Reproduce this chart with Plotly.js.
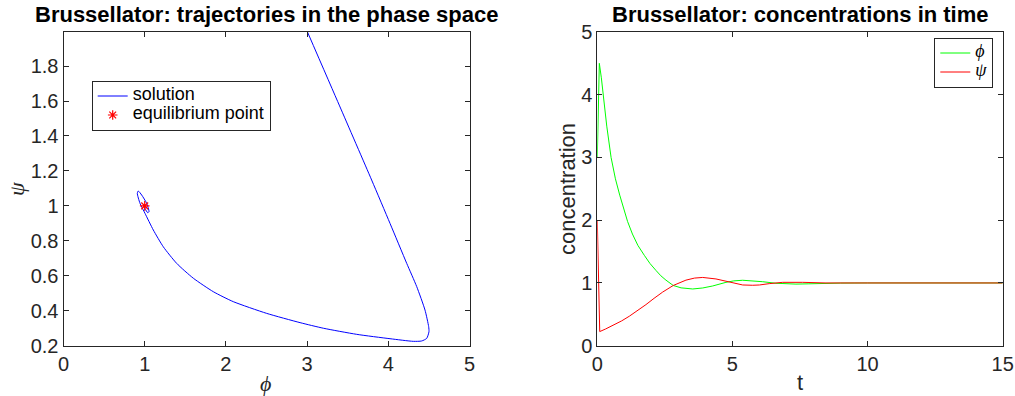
<!DOCTYPE html>
<html>
<head>
<meta charset="utf-8">
<script src="https://cdn.plot.ly/plotly-3.0.1.min.js"></script>
<style>
  html, body { margin: 0; padding: 0; background: #ffffff; }
  #chart { width: 1015px; height: 396px; }
</style>
</head>
<body>
<div id="chart"></div>
<script>
// Brusselator trajectory in the (phi, psi) phase plane
const phasePhi = [3.000, 3.400, 3.795, 4.021, 4.227, 4.350, 4.452, 4.497, 4.501, 4.473, 4.411, 4.308,
                  4.021, 3.611, 3.200, 2.913, 2.502, 2.091, 1.845, 1.599, 1.394, 1.229, 1.106, 1.004,
                  0.942, 0.909, 0.921, 0.963, 1.024, 1.053, 1.037, 1.004, 1.000];
const phasePsi = [2.000, 1.572, 1.148, 0.900, 0.671, 0.538, 0.404, 0.309, 0.280, 0.242, 0.227, 0.225,
                  0.240, 0.265, 0.300, 0.332, 0.385, 0.452, 0.509, 0.586, 0.671, 0.766, 0.862, 0.957,
                  1.015, 1.072, 1.085, 1.062, 1.015, 0.967, 0.961, 0.986, 1.000];

// Equilibrium point
const eqPhi = [1];
const eqPsi = [1];

// Concentrations over time
const tPhi = [0, 0.075, 0.15, 0.22, 0.35, 0.51, 0.67, 0.83, 1.0, 1.12, 1.3, 1.5, 1.74, 1.95, 2.17, 2.35,
              2.54, 2.81, 3.1, 3.53, 3.9, 4.27, 4.76, 5.05, 5.38, 5.75, 6.12, 6.61, 7.0, 7.35, 7.8, 8.3,
              9.0, 10, 11, 12, 13, 14, 15];
const phiT = [3.0, 4.5, 4.27, 4.0, 3.5, 3.0, 2.66, 2.4, 2.14, 1.98, 1.78, 1.6, 1.44, 1.31, 1.2, 1.115,
              1.045, 0.96, 0.922, 0.904, 0.92, 0.952, 1.01, 1.033, 1.043, 1.036, 1.02, 0.995, 0.985, 0.982,
              0.986, 0.993, 0.998, 1.0, 1.0, 1.0, 1.0, 1.0, 1.0];
const tPsi = [0, 0.05, 0.09, 0.3, 0.57, 0.9, 1.185, 1.5, 1.8, 2.1, 2.42, 2.81, 3.28, 3.6, 3.9, 4.39, 4.82,
              5.1, 5.38, 5.75, 6.0, 6.36, 6.86, 7.6, 8.46, 9.5, 10, 11, 12, 13, 14, 15];
const psiT = [2.0, 0.6, 0.225, 0.265, 0.32, 0.395, 0.47, 0.56, 0.655, 0.755, 0.855, 0.96, 1.045, 1.078, 1.088,
              1.064, 1.02, 0.99, 0.968, 0.963, 0.968, 0.989, 1.01, 1.01, 1.0, 1.0, 1.0, 1.0, 1.0, 1.0, 1.0, 1.0];

// Tick positions and labels
const phaseXTicks = [0, 1, 2, 3, 4, 5];
const phaseYTicks = [0.2, 0.4, 0.6, 0.8, 1, 1.2, 1.4, 1.6, 1.8];
const phaseYLabels = ['0.2', '0.4', '0.6', '0.8', '1', '1.2', '1.4', '1.6', '1.8'];
const timeXTicks = [0, 5, 10, 15];
const timeYTicks = [0, 1, 2, 3, 4, 5];

// Text
const titleLeft = 'Brussellator: trajectories in the phase space';
const titleRight = 'Brussellator: concentrations in time';
const legendLeft = ['solution', 'equilibrium point'];
const legendRight = ['<i>ϕ</i>', '<i>ψ</i>'];

const W = 1015, H = 396;
const px = v => v / W;            // horizontal pixel -> paper
const py = v => (H - v) / H;      // vertical pixel (from top) -> paper

const AX = '#262626';
const SANS = 'Liberation Sans, Arial, Helvetica, sans-serif';
const SERIF = 'Liberation Serif, DejaVu Serif, serif';

// legend rows are kept compact: the row height follows the small base size,
// while each label is drawn at full size
const big = s => '<span style="font-size:18px">' + s + '</span>';

function axisBase(extra) {
  return Object.assign({
    showline: true, linecolor: AX, linewidth: 1, mirror: 'ticks',
    ticks: 'inside', ticklen: 5, tickwidth: 1, tickcolor: AX,
    showgrid: false, zeroline: false, fixedrange: true,
    tickfont: { family: SANS, size: 20, color: AX }
  }, extra);
}

const traces = [
  { x: phasePhi, y: phasePsi, xaxis: 'x', yaxis: 'y', type: 'scatter', mode: 'lines',
    line: { color: '#0000ff', width: 1, shape: 'spline', smoothing: 0.6 },
    name: big(legendLeft[0]), legend: 'legend' },
  { x: eqPhi, y: eqPsi, xaxis: 'x', yaxis: 'y', type: 'scatter', mode: 'markers',
    marker: { symbol: 'asterisk-open', size: 8, color: '#ff0000', line: { color: '#ff0000', width: 1.2 } },
    name: big(legendLeft[1]), legend: 'legend' },
  { x: tPhi, y: phiT, xaxis: 'x2', yaxis: 'y2', type: 'scatter', mode: 'lines',
    line: { color: '#00ff00', width: 1 }, name: big(legendRight[0]), legend: 'legend2' },
  { x: tPsi, y: psiT, xaxis: 'x2', yaxis: 'y2', type: 'scatter', mode: 'lines',
    line: { color: '#ff0000', width: 1 }, name: big(legendRight[1]), legend: 'legend2' }
];

const layout = {
  width: W, height: H,
  margin: { l: 0, r: 0, t: 0, b: 0 },
  paper_bgcolor: '#ffffff', plot_bgcolor: '#ffffff',
  showlegend: true, hovermode: false,
  xaxis: axisBase({ domain: [px(63.5), px(469.5)], range: [0, 5], tickvals: phaseXTicks, anchor: 'y' }),
  yaxis: axisBase({ domain: [py(345.7), py(32)], range: [0.2, 1.995], tickvals: phaseYTicks,
                    ticktext: phaseYLabels, anchor: 'x' }),
  xaxis2: axisBase({ domain: [px(597.3), px(1002.7)], range: [0, 15], tickvals: timeXTicks, anchor: 'y2' }),
  yaxis2: axisBase({ domain: [py(345.7), py(32)], range: [0, 5], tickvals: timeYTicks, anchor: 'x2' }),
  legend: {
    x: px(91.7), y: py(80.5), xanchor: 'left', yanchor: 'top',
    bgcolor: '#ffffff', bordercolor: AX, borderwidth: 1,
    font: { family: SANS, size: 11, color: '#000000' },
    itemwidth: 30, tracegroupgap: 0, traceorder: 'normal'
  },
  legend2: {
    x: px(993.3), y: py(37.5), xanchor: 'right', yanchor: 'top',
    bgcolor: '#ffffff', bordercolor: AX, borderwidth: 1,
    font: { family: SERIF, size: 11, color: '#000000' },
    itemwidth: 30, tracegroupgap: 0, traceorder: 'normal'
  },
  annotations: [
    { text: '<b>' + titleLeft + '</b>', xref: 'paper', yref: 'paper', x: px(266.5), y: py(15),
      xanchor: 'center', yanchor: 'middle', showarrow: false,
      font: { family: SANS, size: 22, color: '#000000' } },
    { text: '<b>' + titleRight + '</b>', xref: 'paper', yref: 'paper', x: px(800), y: py(15),
      xanchor: 'center', yanchor: 'middle', showarrow: false,
      font: { family: SANS, size: 22, color: '#000000' } },
    { text: '<i>ϕ</i>', xref: 'paper', yref: 'paper', x: px(265), y: py(383),
      xanchor: 'center', yanchor: 'middle', showarrow: false,
      font: { family: SERIF, size: 22, color: AX } },
    { text: '<i>ψ</i>', xref: 'paper', yref: 'paper', x: px(16), y: py(189), textangle: -90,
      xanchor: 'center', yanchor: 'middle', showarrow: false,
      font: { family: SERIF, size: 22, color: AX } },
    { text: 't', xref: 'paper', yref: 'paper', x: px(800), y: py(382),
      xanchor: 'center', yanchor: 'middle', showarrow: false,
      font: { family: SANS, size: 22, color: AX } },
    { text: 'concentration', xref: 'paper', yref: 'paper', x: px(567), y: py(189), textangle: -90,
      xanchor: 'center', yanchor: 'middle', showarrow: false,
      font: { family: SANS, size: 22, color: AX } }
  ]
};

Plotly.newPlot('chart', traces, layout, { staticPlot: true, displayModeBar: false });
</script>
</body>
</html>
